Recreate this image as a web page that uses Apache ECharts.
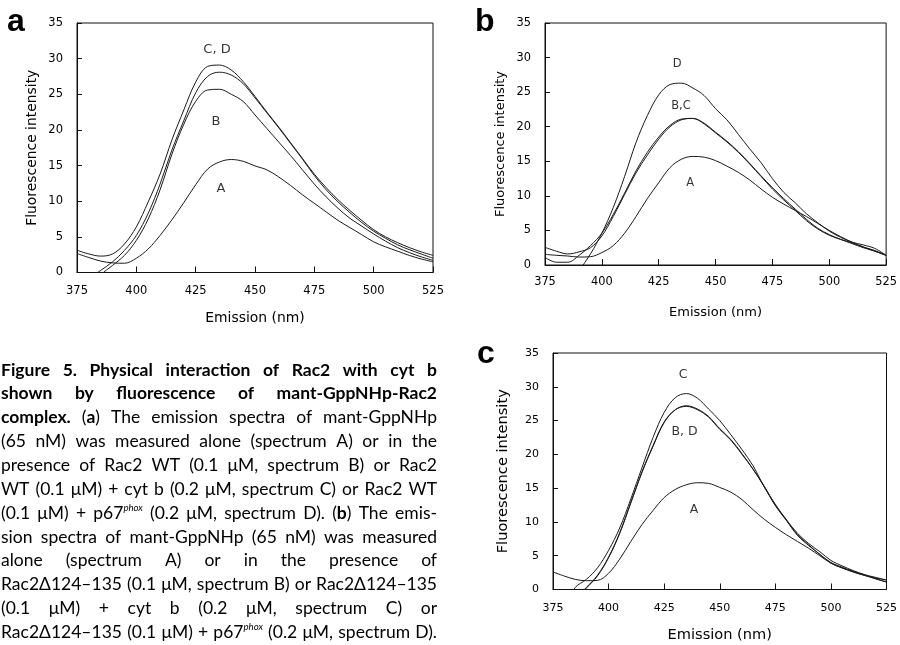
<!DOCTYPE html>
<html><head><meta charset="utf-8">
<script src="https://cdn.jsdelivr.net/npm/echarts@6/dist/echarts.min.js"></script>
<style>html,body{margin:0;padding:0;background:#fff}#c{width:900px;height:645px}</style>
</head><body><div id="c"></div><script>
// ---------- data ----------
const wavelengths = [375,380,385,390,395,400,405,410,415,420,425,430,435,440,445,450,455,460,465,470,475,480,485,490,495,500,505,510,515,520,525];
const xTicks = [375,400,425,450,475,500,525];
const yTicks = [0,5,10,15,20,25,30,35];

// panel a
const aA = [2.66,2.1,1.6,1.35,1.3,2.0,3.3,5.2,7.4,9.8,12.3,14.5,15.5,15.85,15.6,14.95,14.4,13.4,12.2,10.9,9.7,8.5,7.3,6.3,5.3,4.3,3.6,3.0,2.4,1.9,1.5];
const aB = [-3,-2.0,-0.3,1.0,2.4,4.5,7.5,11.6,16.6,20.8,24.0,25.6,25.7,25.0,24.0,22.1,20.2,18.3,16.4,14.4,12.4,10.6,9.0,7.6,6.5,5.4,4.4,3.5,2.8,2.2,1.7];
const aC = [3.13,2.6,2.3,2.6,4.0,6.4,9.9,13.8,18.6,22.8,26.7,28.9,29.1,28.4,26.8,24.7,22.5,20.4,18.2,16.0,13.8,11.9,10.2,8.7,7.3,6.0,5.0,4.2,3.5,2.9,2.4];
const aD = [-2.0,-0.9,0.3,1.5,3.1,5.2,8.3,12.4,17.2,21.3,25.2,27.5,28.1,27.7,26.5,24.5,22.4,20.3,18.1,15.9,13.6,11.6,9.9,8.4,7.0,5.8,4.8,3.9,3.2,2.6,2.0];
// panel b
const bA = [1.54,1.4,1.3,1.15,1.2,1.8,2.8,4.6,7.0,9.6,11.9,14.1,15.3,15.7,15.6,15.1,14.3,13.4,12.3,11.0,9.8,8.8,7.9,7.0,6.0,5.0,4.1,3.3,2.6,2.0,1.4];
const bB = [2.55,2.0,1.6,1.9,2.5,4.2,7.0,10.2,13.3,15.9,18.2,20.0,21.0,21.2,20.4,19.1,17.8,16.3,14.6,12.8,11.0,9.4,7.9,6.4,5.2,4.3,3.7,3.2,2.6,2.1,1.4];
const bC = [1.1,0.4,0.4,1.4,2.8,4.6,7.3,10.4,13.6,16.3,18.5,20.2,21.1,21.2,20.5,19.2,17.9,16.4,14.7,12.9,11.2,9.6,8.1,6.6,5.3,4.4,3.7,3.1,2.5,2.0,1.4];
const bD = [-8,-5.5,-3.0,-0.8,1.6,4.6,8.3,12.8,17.7,21.6,24.6,26.1,26.3,25.6,24.5,22.6,21.0,18.9,16.8,14.8,12.5,10.5,9.0,7.4,6.1,4.9,4.0,3.3,2.9,2.4,1.4];
// panel c
const cA = [2.6,2.0,1.5,1.3,1.35,2.4,4.5,7.1,9.6,11.7,13.6,14.8,15.5,15.8,15.7,15.1,14.4,13.3,11.8,10.4,9.2,8.1,7.1,6.1,5.0,3.9,3.2,2.6,2.1,1.6,1.1];
const cB = [-6,-3.8,-1.4,0.3,2.1,4.8,8.4,12.9,17.4,21.3,24.8,26.6,27.2,26.7,25.6,23.8,22.2,20.1,17.8,15.2,12.4,10.2,8.0,6.5,5.2,3.9,3.2,2.6,2.1,1.7,1.4];
const cC = [-5,-2.4,0.3,1.5,3.2,5.8,9.1,13.4,18.0,22.5,26.2,28.4,29.0,28.3,26.7,25.0,22.9,20.7,18.3,15.2,12.6,10.3,8.3,6.8,5.6,4.3,3.5,2.8,2.2,1.6,1.1];
const cD = [-6,-3.9,-1.5,0.2,2.0,4.7,8.3,12.8,17.3,21.2,24.7,26.6,27.1,26.6,25.5,23.7,22.1,20.0,17.8,15.3,12.5,10.3,8.1,6.6,5.2,4.0,3.3,2.7,2.2,1.8,1.4];

// curve annotations (data coordinates)
const annoTextA = ['C, D','B','A'], annoXA = [434,433.6,435.6], annoYA = [31.2,21.1,11.7];
const annoTextB = ['D','B,C','A'],  annoXB = [433.1,434.8,438.8], annoYB = [29.1,23.0,11.9];
const annoTextC = ['C','B, D','A'], annoXC = [433.5,434.2,438.4], annoYC = [31.8,23.3,11.8];

const panelLetters = ['a','b','c'];
const xTitle = 'Emission (nm)', yTitle = 'Fluorescence intensity';

const captionLines = [
 '**Figure 5. Physical interaction of Rac2 with cyt b**',
 '**shown by fluorescence of mant-GppNHp-Rac2**',
 '**complex.** (**a**) The emission spectra of mant-GppNHp',
 '(65 nM) was measured alone (spectrum A) or in the',
 'presence of Rac2 WT (0.1 μM, spectrum B) or Rac2',
 'WT (0.1 μM) + cyt b (0.2 μM, spectrum C) or Rac2 WT',
 '(0.1 μM) + p67^phox^ (0.2 μM, spectrum D). (**b**) The emis-',
 'sion spectra of mant-GppNHp (65 nM) was measured',
 'alone (spectrum A) or in the presence of',
 'Rac2Δ124–135 (0.1 μM, spectrum B) or Rac2Δ124–135',
 '(0.1 μM) + cyt b (0.2 μM, spectrum C) or',
 'Rac2Δ124–135 (0.1 μM) + p67^phox^ (0.2 μM, spectrum D).'
];

// ---------- layout ----------
const grids = [
  {left:77, top:23, width:356, height:249.5},
  {left:545, top:23, width:343, height:242},
  {left:553, top:353, width:335, height:236.5}
];
const FONT = 'DejaVu Sans';
const tickSize = [11.5,11.4,11];
const titleSize = [13.9,13,14.6];
const annoSize = [13,11.5,12.5];
const xLabelMargin = [13,11.3,12.9];
const xNameGap = [38.5,40.8,38.6];
const yNameGap = [37.8,37.8,41.8];
const INK = '#000000';

const chart = echarts.init(document.getElementById('c'), null, {renderer:'canvas'});

function pairs(v){ return wavelengths.map((w,i)=>[w,v[i]]); }

const xAxis = [], yAxis = [], series = [];
grids.forEach((g,i)=>{
  xAxis.push({
    type:'value', gridIndex:i, min:xTicks[0], max:xTicks[xTicks.length-1], interval:xTicks[1]-xTicks[0],
    name:xTitle, nameLocation:'middle', nameGap:xNameGap[i],
    nameTextStyle:{fontFamily:FONT, fontSize:titleSize[i], color:INK},
    axisLine:{show:true, onZero:false, lineStyle:{color:'#111', width:1}},
    axisTick:{show:true, inside:true, length:6, lineStyle:{color:'#111'}},
    axisLabel:{margin:xLabelMargin[i], fontFamily:FONT, fontSize:tickSize[i], color:INK},
    splitLine:{show:false}
  });
  yAxis.push({
    type:'value', gridIndex:i, min:yTicks[0], max:yTicks[yTicks.length-1], interval:yTicks[1]-yTicks[0],
    name:yTitle, nameLocation:'middle', nameGap:yNameGap[i], nameRotate:90,
    nameTextStyle:{fontFamily:FONT, fontSize:titleSize[i], color:INK},
    axisLine:{show:true, onZero:false, lineStyle:{color:'#111', width:1}},
    axisTick:{show:true, inside:true, length:5, lineStyle:{color:'#111'}},
    axisLabel:{margin:14, fontFamily:FONT, fontSize:tickSize[i], color:INK},
    splitLine:{show:false}
  });
});

const panelData = [
  {A:aA,B:aB,C:aC,D:aD},
  {A:bA,B:bB,C:bC,D:bD},
  {A:cA,B:cB,C:cC,D:cD}
];
panelData.forEach((pd,i)=>{
  ['A','B','C','D'].forEach(k=>{
    series.push({
      type:'line', name:k, xAxisIndex:i, yAxisIndex:i, data:pairs(pd[k]),
      smooth:0.35, showSymbol:false, symbol:'none', clip:true,
      lineStyle:{color:'#1a1a1a', width:1}, silent:true, animation:false
    });
  });
});
const annos = [[annoTextA,annoXA,annoYA],[annoTextB,annoXB,annoYB],[annoTextC,annoXC,annoYC]];
annos.forEach((an,i)=>{
  series.push({
    type:'scatter', xAxisIndex:i, yAxisIndex:i, symbolSize:0, silent:true, animation:false,
    data: an[0].map((t,j)=>({name:t, value:[an[1][j], an[2][j]]})),
    label:{show:true, position:'inside', formatter:'{b}', fontFamily:FONT, fontSize:annoSize[i], color:INK}
  });
});

// ---------- graphic: panel letters + caption ----------
const graphic = [];
const letterPos = [[7,22],[475,22],[477,354]];
panelLetters.forEach((L,i)=>{
  graphic.push({type:'text', x:letterPos[i][0], y:letterPos[i][1],
    style:{text:L, fontFamily:'Liberation Sans', fontWeight:'bold', fontSize:32, fill:'#000', align:'left', verticalAlign:'middle'}});
});

const CAP_FAMILY = 'Lato', CAP_W = 436, CAP_X = 1, CAP_Y0 = 370, CAP_STEP = 23.85;
const mctx = document.createElement('canvas').getContext('2d');
function parseLine(s){
  const words=[]; let cur=[]; let run=''; let bold=false, sup=false;
  const flush=()=>{ if(run){cur.push({t:run,b:bold,s:sup}); run='';} };
  for(let i=0;i<s.length;i++){
    const ch=s[i];
    if(ch==='*'&&s[i+1]==='*'){flush(); bold=!bold; i++; continue;}
    if(ch==='^'){flush(); sup=!sup; continue;}
    if(ch===' '){flush(); if(cur.length) words.push(cur); cur=[]; continue;}
    run+=ch;
  }
  flush(); if(cur.length) words.push(cur);
  return words;
}
function runFont(r,size){
  const fs = r.s ? size*0.55 : size;
  return {fs, style: r.s?'italic':'normal', weight: r.b?'bold':'normal'};
}
function runWidth(r,size){
  const f=runFont(r,size);
  mctx.font = f.style+' '+f.weight+' '+f.fs+'px '+CAP_FAMILY;
  return mctx.measureText(r.t).width;
}
const parsed = captionLines.map(parseLine);
let capSize = 17.5;
for(;;){
  let maxW=0;
  parsed.forEach(ws=>{
    let w=0; ws.forEach(word=>word.forEach(r=>w+=runWidth(r,capSize)));
    w += (ws.length-1)*capSize*0.22;
    maxW=Math.max(maxW,w);
  });
  if(maxW<=CAP_W || capSize<10) break;
  capSize-=0.25;
}
parsed.forEach((ws,li)=>{
  const y = CAP_Y0 + li*CAP_STEP;
  const widths = ws.map(word=>word.reduce((s,r)=>s+runWidth(r,capSize),0));
  const total = widths.reduce((a,b)=>a+b,0);
  const gap = ws.length>1 ? (CAP_W-total)/(ws.length-1) : 0;
  let x = CAP_X;
  ws.forEach((word,wi)=>{
    let xx = x;
    word.forEach(r=>{
      const f=runFont(r,capSize);
      graphic.push({type:'text', x:xx, y: r.s ? y-capSize*0.32 : y,
        style:{text:r.t, fontFamily:CAP_FAMILY, fontSize:f.fs, fontWeight:f.weight, fontStyle:f.style,
               fill:'#000', align:'left', verticalAlign:'middle'}});
      xx += runWidth(r,capSize);
    });
    x += widths[wi] + gap;
  });
});

chart.setOption({
  animation:false,
  backgroundColor:'#ffffff',
  grid: grids.map(g=>Object.assign({show:true, borderColor:'#111', borderWidth:1, backgroundColor:'transparent', containLabel:false}, g)),
  xAxis, yAxis, series, graphic
});
</script></body></html>
